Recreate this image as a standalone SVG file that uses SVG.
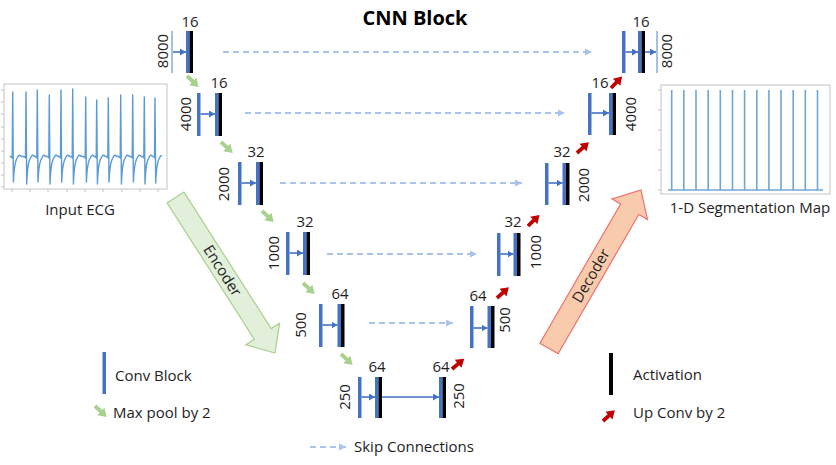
<svg xmlns="http://www.w3.org/2000/svg" width="836" height="465" viewBox="0 0 836 465">
<defs>
<style>
.cb{fill:#4472c4}
.ac{fill:#000}
.thin{stroke:#8fb0e3;stroke-width:1.6}
.in{stroke:#4472c4;stroke-width:1.6;fill:none;marker-end:url(#ab)}
.skip{stroke:#a9c3ea;stroke-width:2;stroke-dasharray:6 4;fill:none;marker-end:url(#sa)}
.t{font-family:"Open Sans","Liberation Sans",sans-serif;font-size:15px;fill:#1e1e1e}
.n{font-family:"Open Sans","Liberation Sans",sans-serif;font-size:15px;fill:#1e1e1e;text-anchor:middle}
.g{fill:#a9d18e}
.r{fill:#c00000}
.box{fill:#fff;stroke:#c4c4c4;stroke-width:1}
.tick{stroke:#c4c4c4;stroke-width:1}
</style>
<marker id="ab" markerUnits="userSpaceOnUse" markerWidth="7" markerHeight="7" refX="6" refY="3.5" orient="auto"><path d="M0,0 L6,3.5 L0,7 Z" fill="#4472c4"/></marker>
<marker id="sa" markerUnits="userSpaceOnUse" markerWidth="8" markerHeight="8" refX="7" refY="4" orient="auto"><path d="M0,0.5 L7,4 L0,7.5 Z" fill="#a9c3ea"/></marker>
<path id="pa" d="M0,-1.9 L8,-1.9 L8,-5.2 L16,0 L8,5.2 L8,1.9 L0,1.9 Z"/>
</defs>
<rect width="836" height="465" fill="#fff"/>
<text x="415" y="25" font-family="Open Sans, Liberation Sans, sans-serif" font-size="20" font-weight="bold" text-anchor="middle" fill="#000">CNN Block</text>

<g id="input-ecg">
<rect class="box" x="4" y="84" width="163" height="105"/>
<path class="tick" d="M12,189v3M30,189v3M48,189v3M67,189v3M85,189v3M103,189v3M122,189v3M140,189v3M158,189v3M1,90h3M1,102h3M1,114h3M1,127h3M1,139h3M1,151h3M1,163h3M1,175h3M1,187h3"/>
<path fill="none" stroke="#5b9bd5" stroke-width="1.4" stroke-linejoin="round" d="M10,156 L12.2,158 L12.7,92 L13.4,182 Q14,166 16.2,160 L17.7,157 Q19.2,154 20.7,156 L25,157 L25.5,158 L26,92 L26.7,184 Q27.3,166 29.5,160 L31,157 Q32.5,154 34,156 L36.3,157 L36.8,158 L37.3,90 L38,182 Q38.6,166 40.8,160 L42.3,157 Q43.8,154 45.3,156 L48.3,157 L48.8,158 L49.3,95 L50,184 Q50.6,166 52.8,160 L54.3,157 Q55.8,154 57.3,156 L60,157 L60.5,158 L61,90 L61.7,182 Q62.3,166 64.5,160 L66,157 Q67.5,154 69,156 L71.7,157 L72.2,158 L72.7,89 L73.4,184 Q74,166 76.2,160 L77.7,157 Q79.2,154 80.7,156 L84.7,157 L85.2,158 L85.7,97 L86.4,182 Q87,166 89.2,160 L90.7,157 Q92.2,154 93.7,156 L95.7,157 L96.2,158 L96.7,100 L97.4,184 Q98,166 100.2,160 L101.7,157 Q103.2,154 104.7,156 L107.3,157 L107.8,158 L108.3,98 L109,182 Q109.6,166 111.8,160 L113.3,157 Q114.8,154 116.3,156 L119.7,157 L120.2,158 L120.7,95 L121.4,184 Q122,166 124.2,160 L125.7,157 Q127.2,154 128.7,156 L131.7,157 L132.2,158 L132.7,95 L133.4,182 Q134,166 136.2,160 L137.7,157 Q139.2,154 140.7,156 L143.3,157 L143.8,158 L144.3,97 L145,184 Q145.6,166 147.8,160 L149.3,157 Q150.8,154 152.3,156 L154,157 L154.5,158 L155,98 L155.7,183 Q156.3,166 158.5,160 L160,157 Q161,155 162,156"/>
<text class="t" x="80" y="215" text-anchor="middle">Input ECG</text>
</g>

<g id="segmentation-map">
<rect class="box" x="661" y="85" width="169" height="109"/>
<path class="tick" d="M658,90h3M658,110h3M658,130h3M658,150h3M658,170h3M658,190h3"/>
<path fill="none" stroke="#6fa6d8" stroke-width="1.6" d="M668,190H823M671.7,190V90M683.8,190V90M696,190V90M708.2,190V90M720.3,190V90M732.5,190V90M744.6,190V90M756.8,190V90M768.9,190V90M781,190V90M793.2,190V90M805.3,190V90M817.5,190V90"/>
<text class="t" x="750" y="213" text-anchor="middle">1-D Segmentation Map</text>
</g>

<g id="encoder-arrow" transform="translate(175.5,197.5) rotate(57.4)">
<polygon points="0,-10 162,-10 162,-20 184.6,0 162,20 162,10 0,10" fill="#e2efda" stroke="#a9d18e" stroke-width="1.2"/>
<text class="t" x="87" y="5" text-anchor="middle">Encoder</text>
</g>
<g id="decoder-arrow" transform="translate(549,348.5) rotate(-59.9)">
<polygon points="0,-10.5 161,-10.5 161,-20.5 183.3,0 161,20.5 161,10.5 0,10.5" fill="#f8cbad" stroke="#f26d6d" stroke-width="1.2"/>
<text class="t" x="84" y="5" text-anchor="middle">Decoder</text>
</g>

<g id="enc1">
<line class="thin" x1="172" y1="31" x2="172" y2="73"/>
<line class="in" x1="173" y1="52" x2="186" y2="52"/>
<rect class="cb" x="186" y="31" width="3.5" height="42"/><rect class="ac" x="189.5" y="31" width="3.5" height="42"/>
<text class="n" x="190" y="27">16</text>
<text class="n" transform="translate(168,51) rotate(-90)">8000</text>
</g>
<g id="enc2">
<rect class="cb" x="197" y="93" width="3.5" height="43"/>
<line class="in" x1="200.5" y1="114" x2="215" y2="114"/>
<rect class="cb" x="215" y="93" width="3.5" height="43"/><rect class="ac" x="218.5" y="93" width="3.5" height="43"/>
<text class="n" x="219" y="88">16</text>
<text class="n" transform="translate(191,114) rotate(-90)">4000</text>
</g>
<g id="enc3">
<rect class="cb" x="238" y="162" width="3.5" height="43"/>
<line class="in" x1="241.5" y1="183" x2="256" y2="183"/>
<rect class="cb" x="256" y="162" width="3.5" height="43"/><rect class="ac" x="259.5" y="162" width="3.5" height="43"/>
<text class="n" x="256" y="157">32</text>
<text class="n" transform="translate(229,184) rotate(-90)">2000</text>
</g>
<g id="enc4">
<rect class="cb" x="286" y="232" width="3.5" height="43"/>
<line class="in" x1="289.5" y1="253" x2="303" y2="253"/>
<rect class="cb" x="303" y="232" width="3.5" height="43"/><rect class="ac" x="306.5" y="232" width="3.5" height="43"/>
<text class="n" x="305" y="227">32</text>
<text class="n" transform="translate(279,253) rotate(-90)">1000</text>
</g>
<g id="enc5">
<rect class="cb" x="319" y="304" width="3.5" height="43"/>
<line class="in" x1="322.5" y1="325" x2="337.5" y2="325"/>
<rect class="cb" x="337.5" y="304" width="3.5" height="43"/><rect class="ac" x="341" y="304" width="3.5" height="43"/>
<text class="n" x="340" y="299">64</text>
<text class="n" transform="translate(306,325) rotate(-90)">500</text>
</g>
<g id="enc6">
<rect class="cb" x="358" y="377" width="3.5" height="41"/>
<line class="in" x1="361.5" y1="397" x2="375" y2="397"/>
<rect class="cb" x="375" y="377" width="3.5" height="41"/><rect class="ac" x="378.5" y="377" width="3.5" height="41"/>
<text class="n" x="377" y="372">64</text>
<text class="n" transform="translate(350,397) rotate(-90)">250</text>
</g>
<g id="dec6">
<rect class="cb" x="439" y="377" width="3.5" height="41"/><rect class="ac" x="442.5" y="377" width="3.5" height="41"/>
<text class="n" x="441" y="372">64</text>
<text class="n" transform="translate(464,396) rotate(-90)">250</text>
</g>
<g id="dec5">
<rect class="cb" x="470" y="306" width="3.5" height="42"/>
<line class="in" x1="473.5" y1="328" x2="487.5" y2="328"/>
<rect class="cb" x="487.5" y="306" width="3.5" height="42"/><rect class="ac" x="491" y="306" width="3.5" height="42"/>
<text class="n" x="478" y="301">64</text>
<text class="n" transform="translate(510,320) rotate(-90)">500</text>
</g>
<g id="dec4">
<rect class="cb" x="497" y="233" width="3.5" height="43"/>
<line class="in" x1="500.5" y1="254" x2="513.5" y2="254"/>
<rect class="cb" x="513.5" y="233" width="3.5" height="43"/><rect class="ac" x="517" y="233" width="3.5" height="43"/>
<text class="n" x="513" y="227">32</text>
<text class="n" transform="translate(541,252) rotate(-90)">1000</text>
</g>
<g id="dec3">
<rect class="cb" x="545" y="163" width="3.5" height="42"/>
<line class="in" x1="548.5" y1="183" x2="562.5" y2="183"/>
<rect class="cb" x="562.5" y="163" width="3.5" height="42"/><rect class="ac" x="566" y="163" width="3.5" height="42"/>
<text class="n" x="562" y="157">32</text>
<text class="n" transform="translate(589,185) rotate(-90)">2000</text>
</g>
<g id="dec2">
<rect class="cb" x="588" y="93" width="3.5" height="42"/>
<line class="in" x1="591.5" y1="113" x2="609" y2="113"/>
<rect class="cb" x="609" y="93" width="3.5" height="42"/><rect class="ac" x="612.5" y="93" width="3.5" height="42"/>
<text class="n" x="600" y="88">16</text>
<text class="n" transform="translate(636,114) rotate(-90)">4000</text>
</g>
<g id="dec1">
<rect class="cb" x="622" y="31" width="3.5" height="42"/>
<line class="in" x1="625.5" y1="52" x2="638" y2="52"/>
<rect class="cb" x="638" y="31" width="3.5" height="42"/><rect class="ac" x="641.5" y="31" width="3.5" height="42"/>
<line class="in" x1="645" y1="52" x2="656" y2="52"/>
<line class="thin" x1="657" y1="31" x2="657" y2="73"/>
<text class="n" x="641" y="27">16</text>
<text class="n" transform="translate(672,51) rotate(-90)">8000</text>
</g>

<g id="connectors">
<line class="skip" x1="223" y1="52" x2="592" y2="52"/>
<line class="skip" x1="245" y1="113" x2="565" y2="113"/>
<line class="skip" x1="280" y1="183" x2="522" y2="183"/>
<line class="skip" x1="327" y1="254" x2="477" y2="254"/>
<line class="skip" x1="369" y1="323" x2="453" y2="323"/>
<line class="in" x1="382" y1="397" x2="439" y2="397"/>
<use href="#pa" class="g" transform="translate(187,76) rotate(43)"/>
<use href="#pa" class="g" transform="translate(221,142) rotate(43)"/>
<use href="#pa" class="g" transform="translate(262,211) rotate(43)"/>
<use href="#pa" class="g" transform="translate(303,283) rotate(43)"/>
<use href="#pa" class="g" transform="translate(341,354) rotate(43)"/>
<use href="#pa" class="r" transform="translate(452,369) rotate(-40)"/>
<use href="#pa" class="r" transform="translate(497,298) rotate(-42)"/>
<use href="#pa" class="r" transform="translate(528,226) rotate(-44)"/>
<use href="#pa" class="r" transform="translate(577,153) rotate(-42)"/>
<use href="#pa" class="r" transform="translate(611,88) rotate(-46)"/>
</g>

<g id="legend">
<rect class="cb" x="102.5" y="352" width="3.5" height="42"/>
<text class="t" x="115" y="381">Conv Block</text>
<use href="#pa" class="g" transform="translate(95,406) rotate(43)"/>
<text class="t" x="113" y="418">Max pool by 2</text>
<rect class="ac" x="609" y="353" width="4" height="42"/>
<text class="t" x="633" y="380">Activation</text>
<use href="#pa" class="r" transform="translate(603,421) rotate(-42)"/>
<text class="t" x="633" y="418">Up Conv by 2</text>
<line class="skip" x1="310" y1="447" x2="346" y2="447"/>
<text class="t" x="354" y="452">Skip Connections</text>
</g>
</svg>
